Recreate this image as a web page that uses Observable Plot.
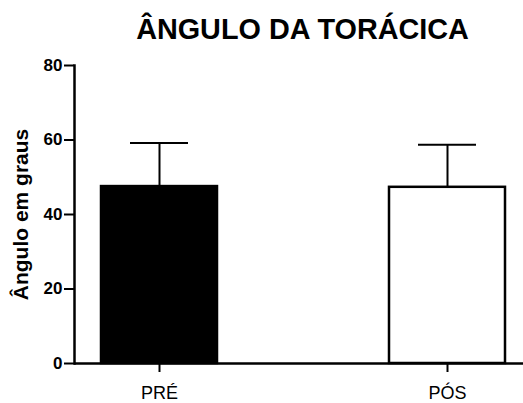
<!DOCTYPE html>
<html><head><meta charset="utf-8">
<script src="https://cdn.jsdelivr.net/npm/d3@7"></script>
<script src="https://cdn.jsdelivr.net/npm/@observablehq/plot@0.6"></script>
<style>body{margin:0;background:#fff;}</style>
</head><body><div id="chart"></div>
<script>
const title = "ÂNGULO DA TORÁCICA";
const yLabel = "Ângulo em graus";
const groups = ["PRÉ", "PÓS"];
const means = [47.5, 47.3];
const errors = [11.7, 11.4];
const fills = ["black", "white"];
const yTicks = [0, 20, 40, 60, 80];

const data = groups.map((g, i) => ({group: g, mean: means[i], top: means[i] + errors[i], fill: fills[i]}));

const chart = Plot.plot({
  width: 523, height: 403,
  marginLeft: 74, marginRight: 0, marginTop: 65, marginBottom: 40,
  style: {fontFamily: "'Liberation Sans', Arial, sans-serif", background: "white", color: "black"},
  x: {domain: groups, range: [74, 531.6], paddingInner: 0.598, paddingOuter: 0.0926},
  y: {domain: [0, 80]},
  color: {type: "identity"},
  marks: [
    Plot.ruleX(data, {x: "group", y1: "mean", y2: "top", stroke: "black", strokeWidth: 2}),
    Plot.tickY(data, {x: "group", y: "top", stroke: "black", strokeWidth: 2, insetLeft: 29, insetRight: 29}),
    Plot.barY(data, {x: "group", y: "mean", fill: "fill", stroke: "black", strokeWidth: 2.5}),
    Plot.axisY({ticks: yTicks, tickSize: 10, tickPadding: 2, fontSize: 17, fontWeight: "bold", strokeWidth: 2, label: null}),
    Plot.axisX({tickSize: 9, tickPadding: 14, fontSize: 18, strokeWidth: 2, label: null}),
    Plot.frame({anchor: "left", strokeWidth: 2.5}),
    Plot.ruleY([0], {strokeWidth: 2.5}),
    Plot.text([title], {frameAnchor: "top", lineAnchor: "middle", dy: -36, dx: 3.5, fontSize: 28.8, fontWeight: "bold"}),
    Plot.text([yLabel], {frameAnchor: "left", textAnchor: "middle", lineAnchor: "middle", rotate: -90, dx: -53, fontSize: 21, fontWeight: "bold"})
  ]
});
document.getElementById("chart").append(chart);
</script>
</body></html>
